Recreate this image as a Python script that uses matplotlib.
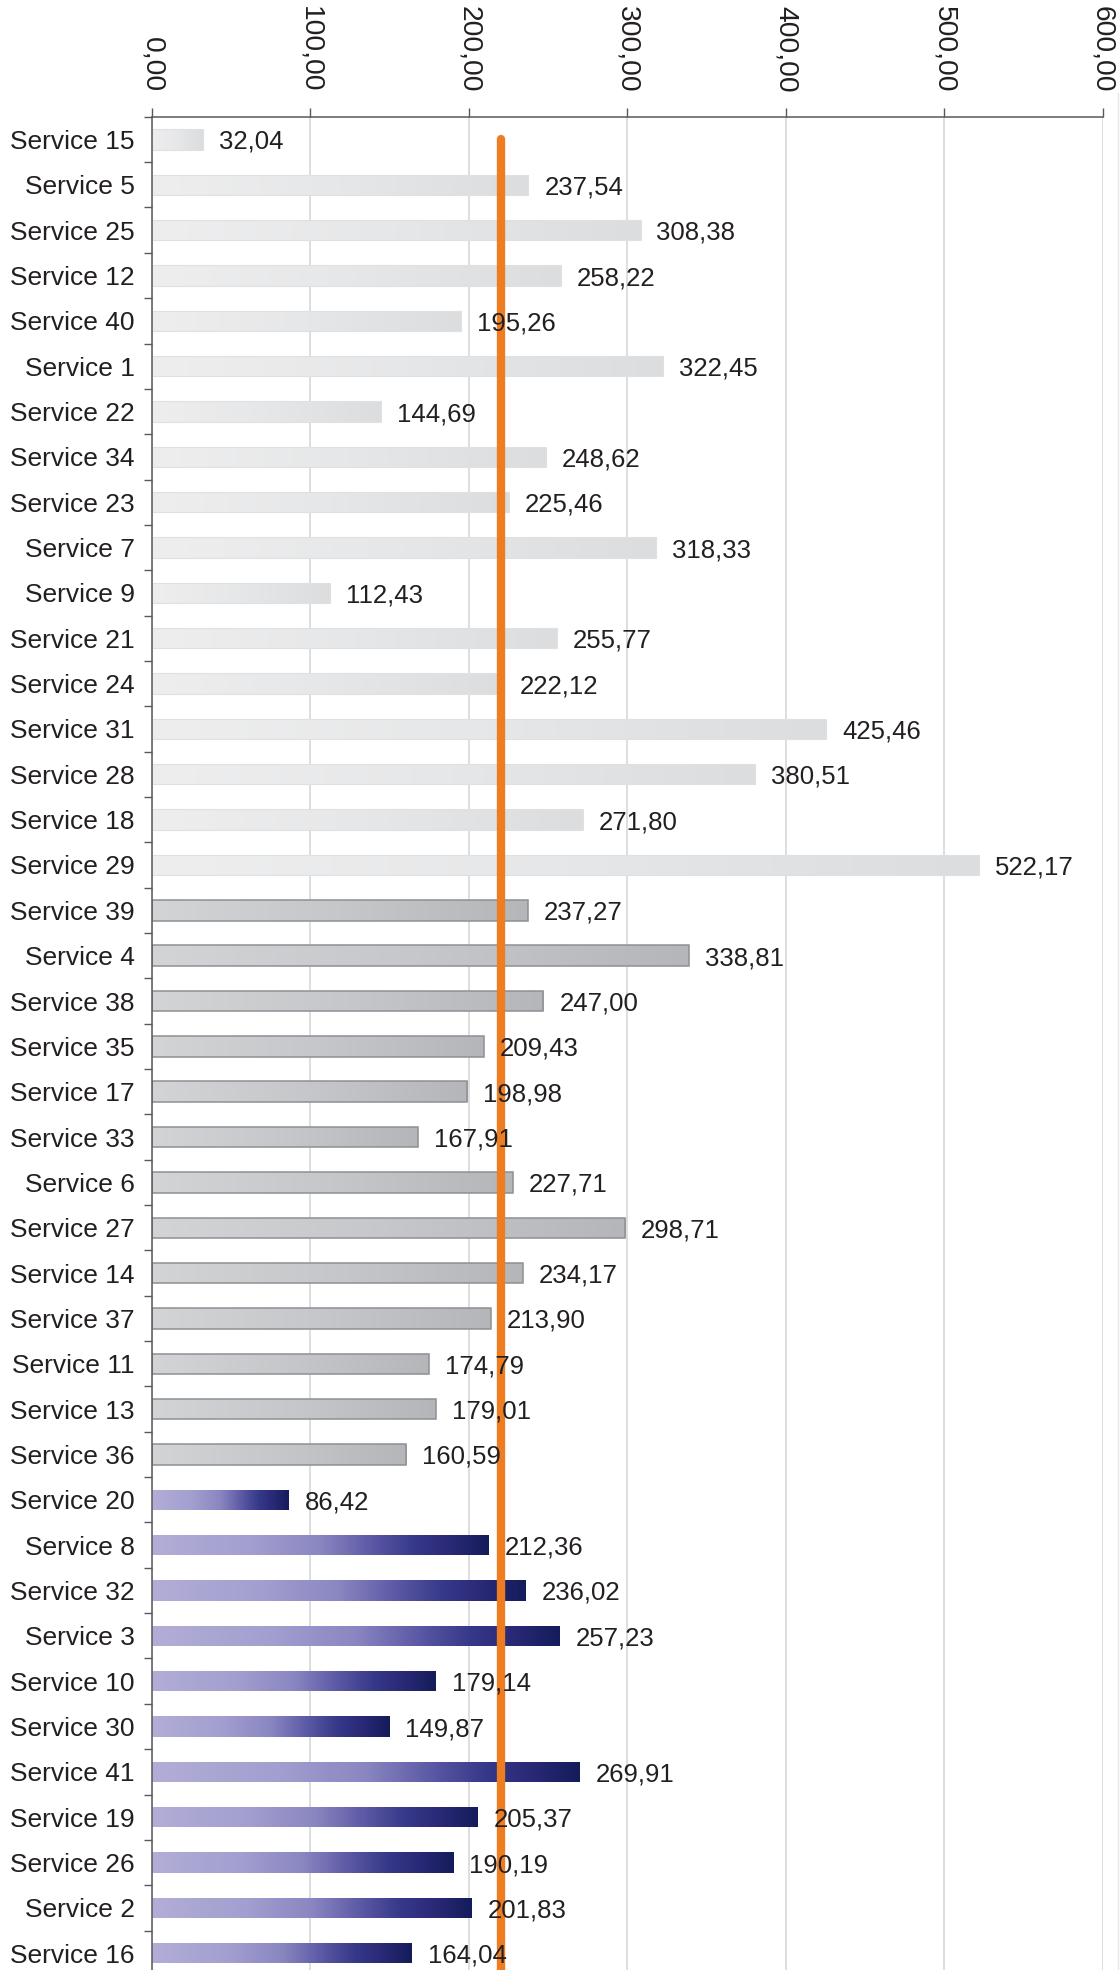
import numpy as np
import matplotlib
matplotlib.use("Agg")
import matplotlib.pyplot as plt
from matplotlib.colors import LinearSegmentedColormap
from matplotlib.ticker import FixedLocator
from matplotlib.lines import Line2D

plt.rcParams['font.family'] = ['Liberation Sans', 'DejaVu Sans']

categories = ["Service 15", "Service 5", "Service 25", "Service 12", "Service 40", "Service 1",
              "Service 22", "Service 34", "Service 23", "Service 7", "Service 9", "Service 21",
              "Service 24", "Service 31", "Service 28", "Service 18", "Service 29",
              "Service 39", "Service 4", "Service 38", "Service 35", "Service 17", "Service 33",
              "Service 6", "Service 27", "Service 14", "Service 37", "Service 11", "Service 13",
              "Service 36",
              "Service 20", "Service 8", "Service 32", "Service 3", "Service 10", "Service 30",
              "Service 41", "Service 19", "Service 26", "Service 2", "Service 16"]
values = [32.04, 237.54, 308.38, 258.22, 195.26, 322.45, 144.69, 248.62, 225.46, 318.33,
          112.43, 255.77, 222.12, 425.46, 380.51, 271.80, 522.17,
          237.27, 338.81, 247.00, 209.43, 198.98, 167.91, 227.71, 298.71, 234.17, 213.90,
          174.79, 179.01, 160.59,
          86.42, 212.36, 236.02, 257.23, 179.14, 149.87, 269.91, 205.37, 190.19, 201.83, 164.04]
groups = [0] * 17 + [1] * 13 + [2] * 11
reference_value = 220.5
x_ticks = [0, 100, 200, 300, 400, 500, 600]

cmaps = [
    LinearSegmentedColormap.from_list("g1", ["#eeeeef", "#e6e7e8", "#dcdddf"]),
    LinearSegmentedColormap.from_list("g2", ["#d3d4d6", "#c6c7ca", "#b5b6ba"]),
    LinearSegmentedColormap.from_list("g3", [(0.0, "#b2aed7"), (0.3, "#a29ecf"),
                                             (0.5, "#8a86c1"), (0.65, "#5d5aa6"),
                                             (0.78, "#363889"), (0.88, "#2b2a78"),
                                             (1.0, "#141c5a")]),
]
edges = ["#dfe0e1", "#8f9094", "none"]
edge_w = [0.8, 1.1, 0]

W, H = 1120, 1970
fig = plt.figure(figsize=(W / 100, H / 100), dpi=100)
left, right, top = 152, 1102.5, 116.8
ax = fig.add_axes([left / W, 0, (right - left) / W, 1 - top / H])

y = np.arange(len(categories))
bars = ax.barh(y, values, height=0.45, color="none", zorder=2.5)
grad = np.linspace(0, 1, 256).reshape(1, -1)
for bar, g in zip(bars, groups):
    x0, y0, w, h = bar.get_x(), bar.get_y(), bar.get_width(), bar.get_height()
    im = ax.imshow(grad, extent=[x0, x0 + w, y0 + h, y0], cmap=cmaps[g], aspect="auto",
                   interpolation="bilinear", zorder=2)
    im.set_clip_path(bar)
    bar.set_edgecolor(edges[g])
    bar.set_linewidth(edge_w[g])

ax.plot([reference_value, reference_value], [0, len(categories) + 1], color="#ee7d22",
        lw=6, solid_capstyle="round", zorder=3)

for yi, v in zip(y, values):
    ax.annotate(f"{v:.2f}".replace(".", ","), xy=(v, yi), xytext=(11.5, 0),
                textcoords="offset points", va="center_baseline", ha="left", fontsize=18.5,
                color="#231f20", zorder=4)

ax.set_xlim(0, 600)
ax.set_ylim(40.37, -0.5)
ax.xaxis.tick_top()
ax.xaxis.set_major_locator(FixedLocator(x_ticks))
ax.set_xticklabels([f"{t:.2f}".replace(".", ",") for t in x_ticks])
ax.tick_params(axis="x", which="major", direction="out", length=6.5, width=1.0,
               color="#58595b", pad=11, labelsize=20.3, labelcolor="#231f20",
               labelrotation=-90)
ax.set_yticks(y)
ax.set_yticklabels(categories)
for lbl in ax.get_yticklabels():
    lbl.set_va("center_baseline")
ax.yaxis.set_minor_locator(FixedLocator(np.arange(-0.5, len(categories) - 0.5, 1.0)))
ax.tick_params(axis="y", which="major", length=0, pad=12.5, labelsize=19,
               labelcolor="#231f20")
ax.tick_params(axis="y", which="minor", direction="out", length=6, width=1.0,
               color="#58595b")
ax.grid(axis="x", color="#d4d4d4", lw=1.1)
ax.set_axisbelow(True)
for s in ["right", "bottom"]:
    ax.spines[s].set_visible(False)
for s in ["top", "left"]:
    ax.spines[s].set_color("#58595b")
    ax.spines[s].set_linewidth(1.1)

fig.add_artist(Line2D([1117.5 / W, 1117.5 / W], [0, 1 - 93 / H], color="#e6e6e6", lw=1))

fig.savefig("out.png", dpi=100)
